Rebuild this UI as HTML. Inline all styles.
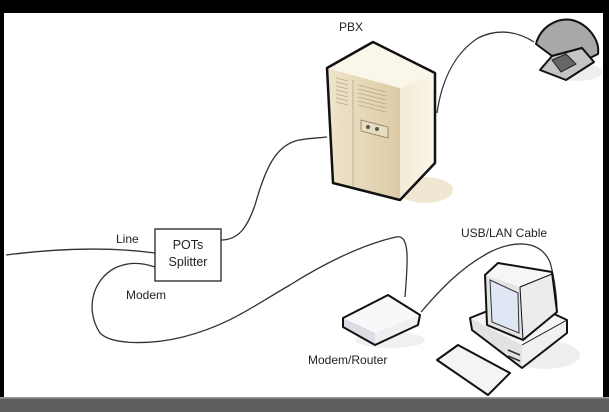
<!DOCTYPE html>
<html><head><style>
html,body{margin:0;padding:0;background:#000;}
svg{display:block;}
text{font-family:"Liberation Sans",Arial,sans-serif;fill:#222;}
</style></head><body>
<svg width="609" height="412" viewBox="0 0 609 412" xmlns="http://www.w3.org/2000/svg">
<rect x="0" y="0" width="609" height="412" fill="#000"/>
<rect x="4" y="13" width="599" height="384" fill="#fff"/>
<rect x="0" y="397" width="609" height="15" fill="#5f5f5f"/>
<rect x="0" y="397" width="609" height="1.5" fill="#9a9a9a"/>
<defs>
<linearGradient id="pl" x1="0" x2="1"><stop offset="0" stop-color="#efe4cc"/><stop offset="1" stop-color="#dccba5"/></linearGradient>
<linearGradient id="pr" x1="0" x2="1"><stop offset="0" stop-color="#f3ead6"/><stop offset="1" stop-color="#fbf6ea"/></linearGradient>
</defs>
<g fill="none" stroke="#333" stroke-width="1.3">
<path d="M6,255 C60,248 110,247 155,253"/>
<path d="M155,267 C140,262 128,262 115,268 C92,280 85,310 100,333 C112,345 150,345 183,337 C230,325 255,305 290,285 C320,266 360,245 396,237 C410,234 408,260 405,297"/>
<path d="M221,240 C240,240 248,225 255,205 C265,170 275,145 299,140 C310,138 318,138 327,137"/>
<path d="M437,113 C441,85 452,55 478,38 C500,27 520,33 534,42"/>
<path d="M421,312 C440,290 460,268 490,252 C515,240 540,240 550,262 C555,280 557,300 557,312"/>
</g>
<!-- PBX -->
<ellipse cx="425" cy="190" rx="28" ry="13" fill="#efe7d2"/>
<polygon points="327,68 400,88 400,200 333,183" fill="url(#pl)"/>
<polygon points="400,88 435,73 435,163 400,200" fill="url(#pr)"/>
<polygon points="373,42 435,73 400,88 327,68" fill="#fbf6ea"/>
<g stroke="#b8a988" stroke-width="0.8">
<line x1="336" y1="78" x2="348" y2="81"/><line x1="336" y1="82" x2="348" y2="85"/><line x1="336" y1="86" x2="348" y2="89"/><line x1="336" y1="90" x2="348" y2="93"/><line x1="336" y1="94" x2="348" y2="97"/><line x1="336" y1="98" x2="348" y2="101"/><line x1="336" y1="102" x2="348" y2="105"/>
<line x1="358" y1="85" x2="386" y2="92"/><line x1="358" y1="89" x2="386" y2="96"/><line x1="358" y1="93" x2="386" y2="100"/><line x1="358" y1="97" x2="386" y2="104"/><line x1="358" y1="101" x2="386" y2="108"/><line x1="358" y1="105" x2="386" y2="112"/>
<line x1="353" y1="80" x2="353" y2="188"/>
</g>
<polygon points="361,120 388,127 388,138 361,131" fill="#e8dcc0" stroke="#8a7a5a" stroke-width="0.8"/>
<circle cx="368" cy="127" r="2" fill="#555"/><circle cx="377" cy="129" r="2" fill="#555"/>
<polygon points="373,42 435,73 435,163 400,200 333,183 327,68" fill="none" stroke="#111" stroke-width="2.5" stroke-linejoin="round"/>
<!-- Phone -->
<ellipse cx="578" cy="72" rx="24" ry="9" fill="#eee"/>
<path d="M536,44 C540,28 556,17 572,20 C588,24 600,40 598,54 L590,58 L582,48 L552,56 Z" fill="#a8a8a8" stroke="#111" stroke-width="2" stroke-linejoin="round"/>
<polygon points="552,56 582,48 594,62 566,80 540,70" fill="#c4c4c4" stroke="#111" stroke-width="2" stroke-linejoin="round"/>
<polygon points="552,60 566,54 576,64 561,72" fill="#666" stroke="#222"/>
<!-- POTs splitter -->
<rect x="155" y="229" width="66" height="52" fill="#fff" stroke="#222" stroke-width="1.3"/>
<!-- Router -->
<ellipse cx="390" cy="340" rx="35" ry="8" fill="#f0f0f0"/>
<polygon points="343,318 388,295 420,315 375,333" fill="#f8f8f8"/>
<polygon points="343,318 375,333 375,345 343,327" fill="#dcdce4"/>
<polygon points="375,333 420,315 418,325 375,345" fill="#efefef"/>
<polygon points="343,318 388,295 420,315 418,325 375,345 343,327" fill="none" stroke="#111" stroke-width="2" stroke-linejoin="round"/>
<!-- Computer base -->
<ellipse cx="545" cy="355" rx="35" ry="14" fill="#eee"/>
<polygon points="470,318 520,298 567,320 522,345" fill="#f4f4f4"/>
<polygon points="470,318 522,345 522,368 472,330" fill="#e2e2e2"/>
<polygon points="522,345 567,320 567,333 522,368" fill="#f0f0f0"/>
<polygon points="470,318 520,298 567,320 567,333 522,368 472,330" fill="none" stroke="#111" stroke-width="2" stroke-linejoin="round"/>
<line x1="522" y1="345" x2="567" y2="320" stroke="#111" stroke-width="1"/>
<line x1="508" y1="350" x2="520" y2="355" stroke="#333" stroke-width="1.5"/>
<line x1="508" y1="356" x2="520" y2="361" stroke="#333" stroke-width="1.5"/>
<!-- Monitor -->
<polygon points="485,275 498,263 552,272 520,287" fill="#f6f6f6"/>
<polygon points="520,287 552,274 557,312 523,340" fill="#ececec"/>
<polygon points="485,275 520,287 523,340 487,325" fill="#e4e4e4"/>
<polygon points="490,280 518,293 519,333 492,322" fill="#dfe6f4" stroke="#333"/>
<polygon points="485,275 498,263 552,272 557,312 523,340 487,325" fill="none" stroke="#111" stroke-width="2" stroke-linejoin="round"/>
<line x1="520" y1="287" x2="552" y2="274" stroke="#111" stroke-width="1.2"/>
<line x1="520" y1="287" x2="523" y2="340" stroke="#111" stroke-width="1"/>
<!-- Keyboard -->
<polygon points="437,360 458,345 510,373 488,395" fill="#f4f4f4" stroke="#111" stroke-width="2" stroke-linejoin="round"/>
<!-- Labels -->
<text x="339" y="31" font-size="12">PBX</text>
<text x="116" y="243" font-size="12">Line</text>
<text x="188" y="249" font-size="12.5" text-anchor="middle">POTs</text>
<text x="188" y="266" font-size="12.5" text-anchor="middle">Splitter</text>
<text x="126" y="299" font-size="12">Modem</text>
<text x="308" y="364" font-size="12">Modem/Router</text>
<text x="461" y="237" font-size="12">USB/LAN Cable</text>
</svg>
</body></html>
